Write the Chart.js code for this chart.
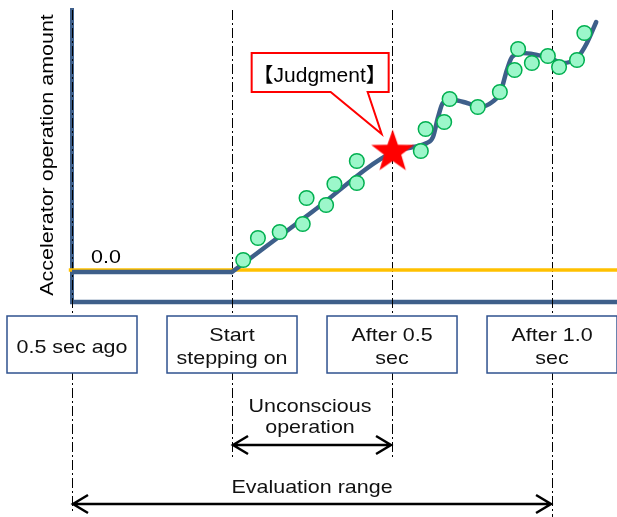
<!DOCTYPE html>
<html><head><meta charset="utf-8">
<script src="https://cdn.jsdelivr.net/npm/chart.js@4"></script>
<style>html,body{margin:0;padding:0;background:#fff;overflow:hidden}#wrap{width:617px;height:517px;position:relative}</style>
</head><body><div id="wrap"><canvas id="c"></canvas></div>
<script>
// ---------------- data ----------------
const timeTicks = [-0.5, 0, 0.5, 1.0];
const tickLabels = [["0.5 sec ago"], ["Start", "stepping on"], ["After 0.5", "sec"], ["After 1.0", "sec"]];
const yAxisTitle = "Accelerator operation amount";
const thresholdLabel = "0.0";
const thresholdX = [-0.51, 1.21];
const thresholdY = [0.2, 0.2];
const idleX = [-0.5, 0];
const idleY = [0, 0];
const curveX = [0, 0.25, 0.503, 0.566, 0.609, 0.628, 0.644, 0.659, 0.691, 0.734, 0.775, 0.813, 0.838, 0.859, 0.875, 0.909, 0.953, 0.994, 1.031, 1.056, 1.081, 1.109, 1.138];
const curveY = [0, 6.0, 12.0, 12.5, 12.9, 13.5, 15.5, 16.9, 17.2, 16.9, 16.5, 17.0, 17.9, 20.2, 21.5, 21.9, 21.7, 21.4, 20.9, 21.0, 21.5, 22.9, 25.0];
const sampleX = [0.035, 0.081, 0.149, 0.221, 0.233, 0.294, 0.320, 0.390, 0.390, 0.590, 0.605, 0.663, 0.680, 0.768, 0.837, 0.883, 0.894, 0.937, 0.987, 1.022, 1.078, 1.101];
const sampleY = [1.2, 3.4, 4.0, 4.8, 7.4, 6.7, 8.8, 8.9, 11.1, 12.1, 14.3, 15.0, 17.3, 16.5, 18.0, 20.2, 22.3, 20.9, 21.6, 20.5, 21.2, 23.9];
const judgmentX = [0.502];
const judgmentY = [12.0];
const judgmentLabel = "【Judgment】";
const unconsciousRange = [0, 0.5];
const unconsciousLabel = ["Unconscious", "operation"];
const evaluationRange = [-0.5, 1.0];
const evaluationLabel = "Evaluation range";

// ---------------- styles ----------------
const BLUE = '#3E5F8A';
const BOXBLUE = '#2F528F';
const ORANGE = '#FFC000';
const FONT = '19px "Liberation Sans", Arial, "Noto Sans CJK JP", sans-serif';
const SX = 1.13;

const pts = (xs, ys) => xs.map((v, i) => ({x: v, y: ys[i]}));

function makeStar(R, r, color) {
  const c = document.createElement('canvas');
  const s = Math.ceil(R * 2 + 4);
  c.width = s; c.height = s;
  const g = c.getContext('2d');
  g.translate(s / 2, s / 2);
  g.beginPath();
  for (let i = 0; i < 10; i++) {
    const rad = i % 2 === 0 ? R : r;
    const a = -Math.PI / 2 + i * Math.PI / 5;
    const px = rad * Math.cos(a), py = rad * Math.sin(a);
    if (i === 0) g.moveTo(px, py); else g.lineTo(px, py);
  }
  g.closePath();
  g.fillStyle = color;
  g.fill();
  return c;
}
const starImg = makeStar(22.5, 9, '#FF0000');

function stretchText(ctx, str, cx, by, rot, sx) {
  ctx.save();
  ctx.translate(cx, by);
  if (rot) ctx.rotate(rot);
  ctx.scale(sx || SX, 1);
  ctx.textAlign = 'center';
  ctx.textBaseline = 'alphabetic';
  ctx.fillText(str, 0, 0);
  ctx.restore();
}

function arrow(ctx, x1, x2, y) {
  const L = 16, H = 9;
  ctx.beginPath();
  ctx.moveTo(x1 + 1, y); ctx.lineTo(x2 - 1, y);
  ctx.moveTo(x1 + L, y - H); ctx.lineTo(x1 + 1, y); ctx.lineTo(x1 + L, y + H);
  ctx.moveTo(x2 - L, y - H); ctx.lineTo(x2 - 1, y); ctx.lineTo(x2 - L, y + H);
  ctx.stroke();
}

const decor = {
  id: 'decor',
  beforeDatasetsDraw(chart) {
    const {ctx, chartArea: a, scales: {x, y}} = chart;
    ctx.save();
    // axes
    ctx.strokeStyle = BLUE;
    ctx.lineWidth = 4;
    ctx.beginPath(); ctx.moveTo(a.left, a.top); ctx.lineTo(a.left, a.bottom); ctx.stroke();
    ctx.lineWidth = 4.5;
    ctx.beginPath(); ctx.moveTo(a.left - 2, a.bottom); ctx.lineTo(a.right, a.bottom); ctx.stroke();
    // dash-dot guide lines
    const ends = [512, 458, 458, 517];
    ctx.strokeStyle = '#000';
    ctx.lineWidth = 1;
    ctx.setLineDash([10, 3, 2, 3]);
    timeTicks.forEach((t, i) => {
      const px = Math.round(x.getPixelForValue(t)) + 0.5;
      ctx.beginPath(); ctx.moveTo(px, a.top + 2); ctx.lineTo(px, ends[i]); ctx.stroke();
    });
    ctx.setLineDash([]);
    // text
    ctx.fillStyle = '#000';
    ctx.font = FONT;
    stretchText(ctx, yAxisTitle, 53, (a.top + a.bottom) / 2, -Math.PI / 2);
    stretchText(ctx, thresholdLabel, 106, y.getPixelForValue(thresholdY[0]) - 7);
    ctx.restore();
  },
  afterDatasetsDraw(chart) {
    const {ctx, scales: {x, y}} = chart;
    ctx.save();
    ctx.font = FONT;
    // time boxes
    timeTicks.forEach((t, i) => {
      const cx = x.getPixelForValue(t);
      ctx.fillStyle = '#fff';
      ctx.fillRect(cx - 65, 316, 130, 57);
      ctx.strokeStyle = BOXBLUE;
      ctx.lineWidth = 1.5;
      ctx.strokeRect(cx - 65, 316, 130, 57);
      ctx.fillStyle = '#111';
      const lines = tickLabels[i];
      if (lines.length === 1) {
        stretchText(ctx, lines[0], cx, 353);
      } else {
        stretchText(ctx, lines[0], cx, 341);
        stretchText(ctx, lines[1], cx, 363.5);
      }
    });
    // range arrows
    ctx.strokeStyle = '#000';
    ctx.lineWidth = 2.5;
    ctx.lineJoin = 'miter';
    const u1 = x.getPixelForValue(unconsciousRange[0]), u2 = x.getPixelForValue(unconsciousRange[1]);
    arrow(ctx, u1, u2, 445);
    const e1 = x.getPixelForValue(evaluationRange[0]), e2 = x.getPixelForValue(evaluationRange[1]);
    arrow(ctx, e1, e2, 504);
    ctx.fillStyle = '#111';
    stretchText(ctx, unconsciousLabel[0], 310, 412);
    stretchText(ctx, unconsciousLabel[1], 310, 433);
    stretchText(ctx, evaluationLabel, 312, 493);
    // callout
    const sx = x.getPixelForValue(judgmentX[0]), sy = y.getPixelForValue(judgmentY[0]);
    const L = sx - 141, R = sx - 4, T = sy - 99, B = sy - 60;
    ctx.beginPath();
    ctx.moveTo(L, T); ctx.lineTo(R, T); ctx.lineTo(R, B);
    ctx.lineTo(sx - 25, B); ctx.lineTo(sx - 11, sy - 18); ctx.lineTo(sx - 62, B);
    ctx.lineTo(L, B); ctx.closePath();
    ctx.fillStyle = '#fff'; ctx.fill();
    ctx.strokeStyle = '#FF0000'; ctx.lineWidth = 2; ctx.lineJoin = 'miter';
    ctx.stroke();
    ctx.fillStyle = '#000';
    ctx.font = '20px "Liberation Sans", Arial, "Noto Sans CJK JP", sans-serif';
    stretchText(ctx, judgmentLabel, sx - 73, sy - 70, 0, 1.05);
    ctx.restore();
  }
};

new Chart(document.getElementById('c'), {
  type: 'scatter',
  data: {
    datasets: [
      {label: 'judgment', data: pts(judgmentX, judgmentY), pointStyle: starImg, pointRadius: 22, showLine: false, order: 0},
      {label: 'samples', data: pts(sampleX, sampleY), pointRadius: 7.3, pointHoverRadius: 7.3,
        pointBackgroundColor: '#9CF7CA', pointBorderColor: '#00B050', pointBorderWidth: 1.5, showLine: false, order: 1},
      {label: 'curve', data: pts(curveX, curveY), showLine: true, borderColor: BLUE, borderWidth: 4.5,
        cubicInterpolationMode: 'monotone', pointRadius: 0, borderCapStyle: 'round', borderJoinStyle: 'round', order: 2},
      {label: 'idle', data: pts(idleX, idleY), showLine: true, borderColor: BLUE, borderWidth: 4.5,
        pointRadius: 0, tension: 0, order: 2},
      {label: 'threshold', data: pts(thresholdX, thresholdY), showLine: true, borderColor: ORANGE, borderWidth: 3.5,
        pointRadius: 0, tension: 0, order: 3, clip: false}
    ]
  },
  options: {
    responsive: true,
    maintainAspectRatio: false,
    animation: false,
    layout: {autoPadding: false, padding: {left: 72, right: 0, top: 8, bottom: 215}},
    plugins: {legend: {display: false}, tooltip: {enabled: false}},
    events: [],
    scales: {
      x: {type: 'linear', min: -0.5, max: 1.203, display: false},
      y: {type: 'linear', min: -3.0, max: 26.4, display: false}
    }
  },
  plugins: [decor]
});
</script>
</body></html>
